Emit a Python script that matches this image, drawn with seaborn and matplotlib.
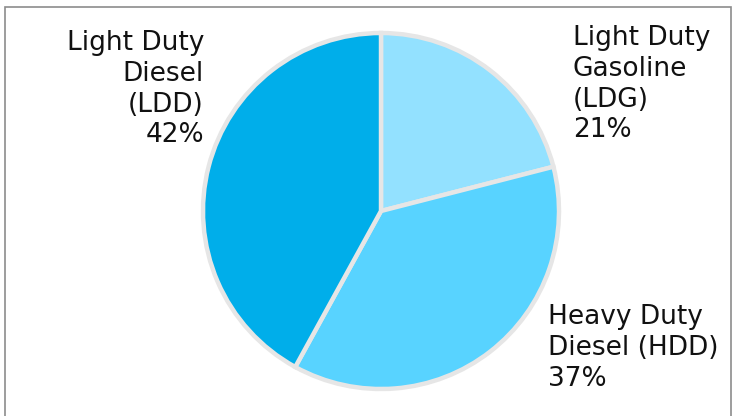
import matplotlib
matplotlib.use("Agg")
import matplotlib.pyplot as plt
import seaborn as sns
from matplotlib.patches import Rectangle

sns.set_theme(style="white")
plt.rcParams['font.family'] = ['DejaVu Sans']

categories = ["Light Duty\nGasoline\n(LDG)", "Heavy Duty\nDiesel (HDD)", "Light Duty\nDiesel\n(LDD)"]
values = [21, 37, 42]
colors = sns.color_palette(["#93E1FF", "#58D3FF", "#00AEEA"])

W, H = 734, 416
fig = plt.figure(figsize=(W / 100, H / 100), dpi=100)
fig.patch.set_facecolor("white")

cx, cy, r = 381, 211, 178
ax = fig.add_axes([(cx - r) / W, (H - cy - r) / H, 2 * r / W, 2 * r / H])
wedges, _ = ax.pie(values, colors=colors, startangle=90, counterclock=False,
                   wedgeprops=dict(edgecolor="#E6E6E6", linewidth=3.2))
for w in wedges:
    w.set_clip_on(False)
ax.set_xlim(-1, 1)
ax.set_ylim(-1, 1)
ax.set_aspect("equal")
ax.axis("off")

fs = 19
ls = 1.24
pcts = [f"{v}%" for v in values]
fig.text(573 / W, 1 - 25 / H, categories[0] + "\n" + pcts[0], ha="left", va="top",
         fontsize=fs, linespacing=ls, color="#111111")
fig.text(548 / W, 1 - 304 / H, categories[1] + "\n" + pcts[1], ha="left", va="top",
         fontsize=fs, linespacing=ls, color="#111111")
fig.text(204 / W, 1 - 30 / H, categories[2] + "\n" + pcts[2], ha="right", va="top",
         fontsize=fs, linespacing=ls, color="#111111", multialignment="right")

border = Rectangle((4.5 / W, -0.05), (731 - 4.5) / W, 1.05 - 6.5 / H,
                   transform=fig.transFigure, fill=False, edgecolor="#8C8C8C",
                   linewidth=1.2, clip_on=False)
fig.patches.append(border)

fig.savefig("out.png", dpi=100)
